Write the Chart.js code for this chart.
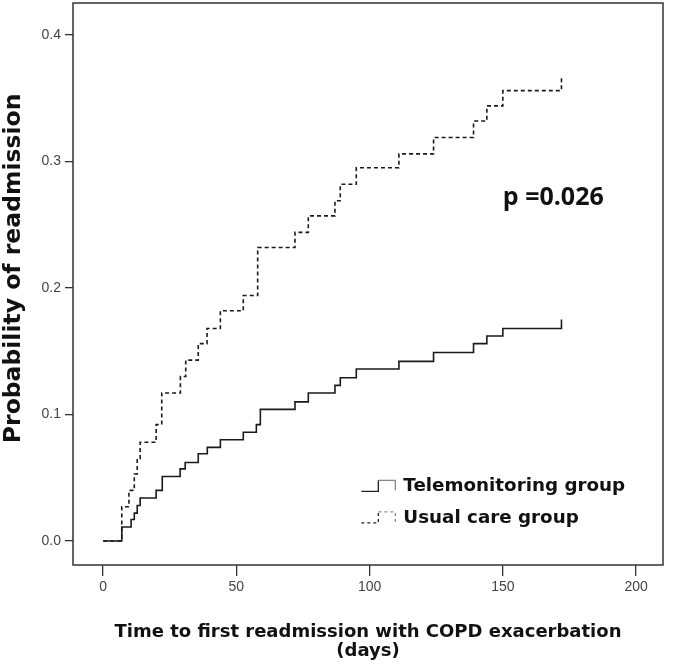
<!DOCTYPE html>
<html>
<head>
<meta charset="utf-8">
<script src="https://cdn.jsdelivr.net/npm/chart.js@4.4.0/dist/chart.umd.min.js"></script>
<style>
  html, body { margin: 0; padding: 0; background: #fff; }
  #wrap { width: 675px; height: 667px; }
</style>
</head>
<body>
<div id="wrap"><canvas id="kmChart" width="675" height="667"></canvas></div>
<script>
// Kaplan-Meier style step data
const teleDays = [0, 7, 10.5, 11.7, 12.8, 13.9, 19.9, 22.2, 28.9, 30.8, 35.7, 39.1, 44, 52.6, 57.5, 59, 72, 77, 87, 89, 95, 111, 124, 139, 144, 150, 172];
const teleProb = [0, 0.011, 0.017, 0.022, 0.028, 0.034, 0.040, 0.051, 0.057, 0.062, 0.069, 0.074, 0.080, 0.086, 0.092, 0.104, 0.110, 0.117, 0.123, 0.129, 0.136, 0.142, 0.149, 0.156, 0.162, 0.168, 0.175];

const usualDays = [0, 7, 9.7, 11.7, 12.8, 13.9, 19.9, 22, 29, 31, 35.7, 39, 44, 52.6, 58, 72, 77, 87, 89, 95, 111, 124, 139, 144, 150, 172];
const usualProb = [0, 0.027, 0.040, 0.053, 0.065, 0.078, 0.092, 0.117, 0.130, 0.143, 0.156, 0.168, 0.182, 0.194, 0.232, 0.244, 0.257, 0.269, 0.282, 0.295, 0.306, 0.319, 0.332, 0.344, 0.356, 0.367];

const xTicks = [0, 50, 100, 150, 200];
const yTicks = [0.0, 0.1, 0.2, 0.3, 0.4];
const groupLabels = ["Telemonitoring group", "Usual care group"];
const pValueText = "p =0.026";
const yTitle = "Probability of readmission";

function toPoints(xs, ys) {
  return xs.map((x, i) => ({ x: x, y: ys[i] }));
}

// frame, y title, p value and the step-shaped legend
const decorations = {
  id: "decorations",
  afterDraw(chart) {
    const ctx = chart.ctx;
    const a = chart.chartArea;
    const xs = chart.scales.x;
    const ys = chart.scales.y;
    ctx.save();
    ctx.strokeStyle = "#333";
    ctx.lineWidth = 1.5;
    ctx.strokeRect(a.left, a.top, a.right - a.left, a.bottom - a.top);

    // y axis title, sits a little above the middle of the frame
    ctx.save();
    ctx.translate(14, ys.getPixelForValue(0.2155));
    ctx.rotate(-Math.PI / 2);
    ctx.fillStyle = "#111";
    ctx.font = "bold 23.5px 'DejaVu Sans'";
    ctx.textAlign = "center";
    ctx.textBaseline = "middle";
    ctx.fillText(yTitle, 0, 0);
    ctx.restore();

    ctx.fillStyle = "#111";
    ctx.font = "bold 25px 'Open Sans'";
    ctx.textBaseline = "middle";
    ctx.textAlign = "left";
    ctx.fillText(pValueText, xs.getPixelForValue(150), ys.getPixelForValue(0.271));

    // legend
    const lx = xs.getPixelForValue(96.9);
    const rows = [ys.getPixelForValue(0.044), ys.getPixelForValue(0.019)];
    const dashes = [[], [3, 3]];
    ctx.font = "bold 18.3px 'DejaVu Sans'";
    rows.forEach((cy, i) => {
      ctx.setLineDash(dashes[i]);
      ctx.lineWidth = 1.3;
      ctx.strokeStyle = "#222";
      ctx.beginPath();
      ctx.moveTo(lx, cy + 6);
      ctx.lineTo(lx + 17, cy + 6);
      ctx.lineTo(lx + 17, cy - 5);
      ctx.stroke();
      ctx.strokeStyle = "#888";
      ctx.beginPath();
      ctx.moveTo(lx + 17, cy - 5);
      ctx.lineTo(lx + 34, cy - 5);
      ctx.lineTo(lx + 34, cy + 5);
      ctx.stroke();
      ctx.setLineDash([]);
      ctx.fillStyle = "#111";
      ctx.fillText(groupLabels[i], lx + 42, cy + 1);
    });
    ctx.restore();
  }
};

const ctx = document.getElementById("kmChart").getContext("2d");
new Chart(ctx, {
  type: "line",
  data: {
    datasets: [
      {
        label: groupLabels[0],
        data: toPoints(teleDays, teleProb),
        borderColor: "#1a1a1a",
        borderWidth: 1.6,
        stepped: "before",
        pointRadius: 0,
        fill: false
      },
      {
        label: groupLabels[1],
        data: toPoints(usualDays, usualProb),
        borderColor: "#1a1a1a",
        borderWidth: 1.6,
        borderDash: [4, 3],
        stepped: "before",
        pointRadius: 0,
        fill: false
      }
    ]
  },
  options: {
    responsive: false,
    animation: false,
    layout: { padding: { left: 0, top: 3, right: 12, bottom: 0 } },
    plugins: {
      legend: { display: false },
      tooltip: { enabled: false }
    },
    scales: {
      x: {
        type: "linear",
        min: -11.3,
        max: 210.1,
        afterFit(scale) {
          scale.height = 102;
          scale.paddingLeft = 0;
          scale.paddingRight = 0;
        },
        afterBuildTicks(scale) { scale.ticks = xTicks.map((v) => ({ value: v })); },
        grid: { display: true, drawOnChartArea: false, drawTicks: true, tickLength: 11, color: "#333", lineWidth: 1.3 },
        border: { display: false },
        ticks: {
          color: "#444",
          font: { family: "'Liberation Sans'", size: 14 },
          padding: 3,
          maxRotation: 0
        },
        title: {
          display: true,
          text: ["Time to first readmission with COPD exacerbation", "(days)"],
          color: "#111",
          font: { family: "'DejaVu Sans'", size: 18, weight: "bold", lineHeight: 1.05 },
          padding: { top: 0, bottom: 6 }
        }
      },
      y: {
        min: -0.019,
        max: 0.4253,
        afterFit(scale) {
          scale.width = 73;
          scale.paddingTop = 0;
          scale.paddingBottom = 0;
        },
        afterBuildTicks(scale) { scale.ticks = yTicks.map((v) => ({ value: v })); },
        grid: { display: true, drawOnChartArea: false, drawTicks: true, tickLength: 8, color: "#333", lineWidth: 1.3 },
        border: { display: false },
        ticks: {
          color: "#444",
          font: { family: "'Liberation Sans'", size: 14 },
          padding: 4,
          callback: (v) => v.toFixed(1)
        },
        title: { display: false }
      }
    }
  },
  plugins: [decorations]
});
</script>
</body>
</html>
